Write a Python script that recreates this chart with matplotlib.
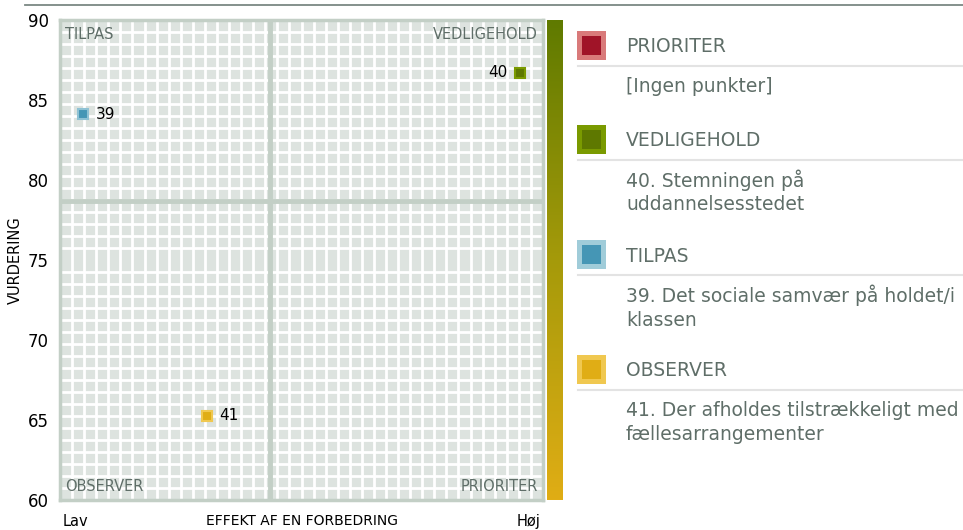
import matplotlib.pyplot as plt
import numpy as np
from matplotlib.patches import Rectangle
from matplotlib.colors import LinearSegmentedColormap

# data
point_ids = ['39', '40', '41']
effect = [4.8, 95.2, 30.4]          # 0 = Lav, 100 = Høj
rating = [84.1, 86.7, 65.25]
point_fill = ['#4596b5', '#5e7800', '#e0ad15']
point_edge = ['#8fc2d4', '#7a9a00', '#f0c850']
effect_split = 43.5
rating_split = 78.7

quadrants = ['PRIORITER', 'VEDLIGEHOLD', 'TILPAS', 'OBSERVER']
quad_fill = ['#a01428', '#5e7800', '#4596b5', '#e0ad15']
quad_edge = ['#d97a7a', '#7a9a00', '#a0ccd9', '#f0c850']
quad_items = [['[Ingen punkter]'],
              ['40. Stemningen på', 'uddannelsesstedet'],
              ['39. Det sociale samvær på holdet/i', 'klassen'],
              ['41. Der afholdes tilstrækkeligt med', 'fællesarrangementer']]

W, H = 963, 530
fig = plt.figure(figsize=(W / 100, H / 100), dpi=100)
txt_col = '#5f6e68'
line_col = '#c3cfc6'

def fbox(x0, y0, x1, y1):
    return [x0 / W, 1 - y1 / H, (x1 - x0) / W, (y1 - y0) / H]

#%% main quadrant chart
ax = fig.add_axes(fbox(60, 20, 543, 500))
ax.set_facecolor('#dde3df')
ax.set_xlim(0, 100)
ax.set_ylim(60, 90)
ax.set_xticks(np.linspace(0, 100, 41), minor=True)
ax.set_yticks(np.linspace(60, 90, 41), minor=True)
ax.grid(which='minor', color='white', lw=2.0)
ax.set_xticks([])
ax.set_yticks(range(60, 91, 5))
ax.tick_params(which='both', length=0, labelsize=12, pad=8)
for s in ax.spines.values():
    s.set_color(line_col)
    s.set_linewidth(2.5)
ax.axvline(effect_split, color=line_col, lw=3.5)
ax.axhline(rating_split, color=line_col, lw=3.5)

for pid, xv, yv, fc, ec in zip(point_ids, effect, rating, point_fill, point_edge):
    ax.plot(xv, yv, marker='s', ms=7.5, mfc=fc, mec=ec, mew=1.5, ls='none', zorder=5)
    if xv > 80:
        ax.annotate(pid, (xv, yv), xytext=(-9, 0), textcoords='offset points',
                    ha='right', va='center', fontsize=11)
    else:
        ax.annotate(pid, (xv, yv), xytext=(9, 0), textcoords='offset points',
                    ha='left', va='center', fontsize=11)

qkw = dict(transform=ax.transAxes, color=txt_col, fontsize=10.5)
ax.text(0.01, 0.985, 'TILPAS', ha='left', va='top', **qkw)
ax.text(0.99, 0.985, 'VEDLIGEHOLD', ha='right', va='top', **qkw)
ax.text(0.01, 0.012, 'OBSERVER', ha='left', va='bottom', **qkw)
ax.text(0.99, 0.012, 'PRIORITER', ha='right', va='bottom', **qkw)

fig.text(15 / W, 1 - 260 / H, 'VURDERING', rotation=90, ha='center', va='center',
         fontsize=10.5)
ax.text(0.005, -0.045, 'Lav', transform=ax.transAxes, ha='left', va='center', fontsize=10.5)
ax.text(0.995, -0.045, 'Høj', transform=ax.transAxes, ha='right', va='center', fontsize=10.5)
fig.text(302 / W, 1 - 514 / H, 'EFFEKT AF EN FORBEDRING', ha='center', va='top',
         fontsize=10)

#%% colour bar
cax = fig.add_axes(fbox(547, 20, 563, 500))
grad = np.linspace(0, 1, 256).reshape(-1, 1)
cmap = LinearSegmentedColormap.from_list('ve_ob', ['#e0ad15', '#a59a0a', '#5f7a00'])
cax.imshow(grad, aspect='auto', cmap=cmap, origin='lower')
cax.set_axis_off()

#%% legend panel (pixel coordinates)
lax = fig.add_axes([0, 0, 1, 1])
lax.set_xlim(0, W)
lax.set_ylim(H, 0)
lax.set_axis_off()
lax.plot([25, W], [5, 5], color='#7b8884', lw=1.3)

tops = [31, 125, 240, 355]
for name, fc, ec, items, top in zip(quadrants, quad_fill, quad_edge, quad_items, tops):
    lax.add_patch(Rectangle((577, top), 29, 29, facecolor=ec, edgecolor='none'))
    lax.add_patch(Rectangle((582, top + 5), 19, 19, facecolor=fc, edgecolor='none'))
    lax.text(626, top + 16, name, ha='left', va='center', fontsize=13.5, color=txt_col)
    lax.plot([578, W], [top + 35, top + 35], color='#e3e3e3', lw=1.5)
    for k, item in enumerate(items):
        lax.text(626, top + 55 + 25 * k, item, ha='left', va='center',
                 fontsize=13.5, color=txt_col)

fig.savefig('out.png', dpi=100)
